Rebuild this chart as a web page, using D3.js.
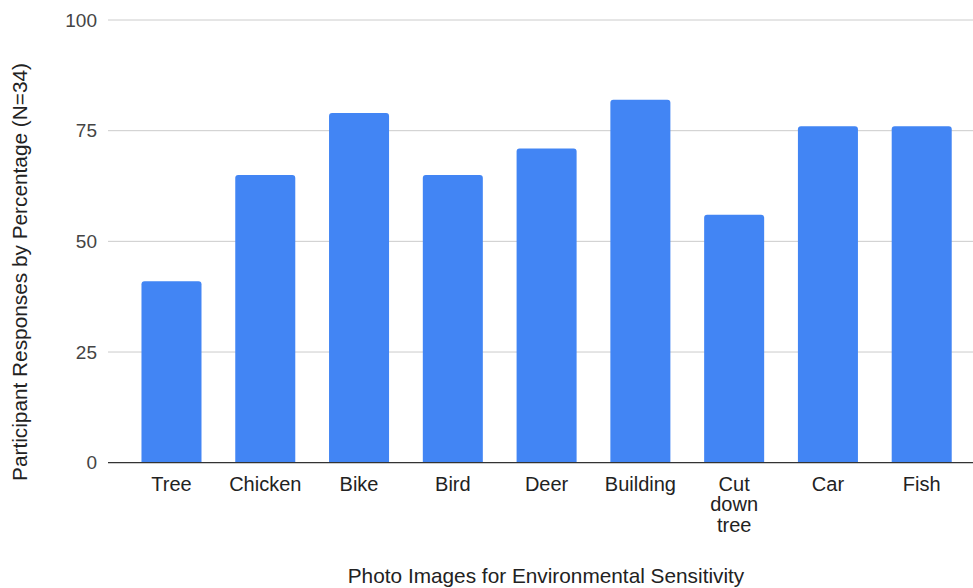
<!DOCTYPE html>
<html><head><meta charset="utf-8">
<script src="https://cdn.jsdelivr.net/npm/d3@7"></script>
<style>body{margin:0;background:#fff}text{font-family:"Liberation Sans",Arial,sans-serif}</style>
</head><body><svg id="c" width="973" height="588"></svg>
<script>
const categories = ["Tree","Chicken","Bike","Bird","Deer","Building","Cut down tree","Car","Fish"];
const values = [41, 65, 79, 65, 71, 82, 56, 76, 76];
const yTicks = [0, 25, 50, 75, 100];
const xTitle = "Photo Images for Environmental Sensitivity";
const yTitle = "Participant Responses by Percentage (N=34)";

const svg = d3.select("#c");
const x = d3.scaleBand().domain(categories).range([124.6, 968.6]).paddingInner(0.36).paddingOuter(0.18);
const y = d3.scaleLinear().domain([0, 100]).range([462.7, 20]);

// grid
svg.append("g").selectAll("line").data(yTicks.filter(d => d > 0)).join("line")
  .attr("x1", 108).attr("x2", 973).attr("y1", d => y(d)).attr("y2", d => y(d))
  .attr("stroke", "#cccccc").attr("stroke-width", 1);

// bars
svg.append("g").selectAll("path").data(categories).join("path")
  .attr("fill", "#4285f4")
  .attr("d", (c, i) => {
    const x0 = x(c), w = x.bandwidth(), y0 = y(values[i]), y1 = y(0), r = 3;
    return `M${x0},${y1}V${y0 + r}Q${x0},${y0} ${x0 + r},${y0}H${x0 + w - r}Q${x0 + w},${y0} ${x0 + w},${y0 + r}V${y1}Z`;
  });

// baseline
svg.append("line").attr("x1", 108).attr("x2", 973).attr("y1", y(0)).attr("y2", y(0))
  .attr("stroke", "#333").attr("stroke-width", 1.3);

// y axis labels
const yAxis = d3.axisLeft(y).tickValues(yTicks).tickSize(0).tickPadding(0);
const ga = svg.append("g").attr("transform", "translate(97,0)").call(yAxis);
ga.select(".domain").remove();
ga.selectAll("text").attr("font-size", 19).attr("fill", "#444").attr("font-family", '"Liberation Sans",Arial,sans-serif');

// x axis labels
const xAxis = d3.axisBottom(x).tickSize(0).tickPadding(0);
const gx = svg.append("g").attr("transform", `translate(0,${y(0)})`).call(xAxis);
gx.select(".domain").remove();
gx.selectAll("text").each(function(d) {
  const t = d3.select(this);
  t.text(null).attr("font-size", 20).attr("fill", "#222").attr("font-family", '"Liberation Sans",Arial,sans-serif')
    .attr("y", null).attr("dy", null);
  const words = d === "Cut down tree" ? d.split(" ") : [d];
  words.forEach((w, k) => t.append("tspan").attr("x", 0).attr("y", 28 + k * 20.5).text(w));
});

// titles
svg.append("text").attr("x", 546).attr("y", 583).attr("text-anchor", "middle")
  .attr("font-size", 20.8).attr("fill", "#222").text(xTitle);
svg.append("text").attr("transform", "translate(27,272) rotate(-90)").attr("text-anchor", "middle")
  .attr("font-size", 20.8).attr("fill", "#222").text(yTitle);
</script></body></html>
